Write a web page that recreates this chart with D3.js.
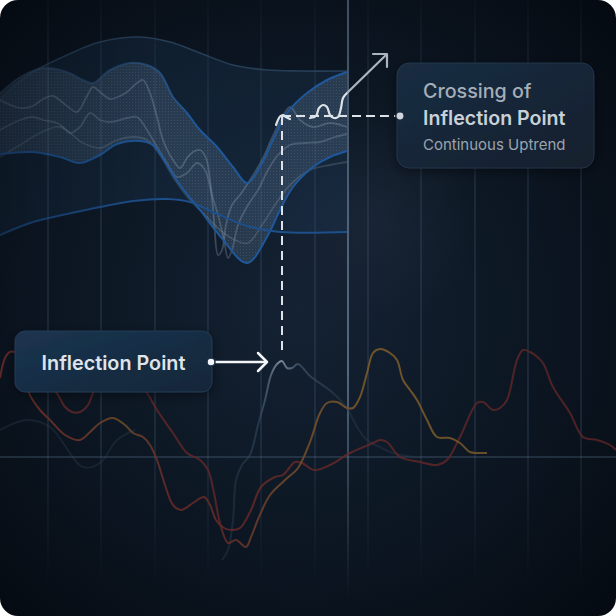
<!DOCTYPE html>
<html><head><meta charset="utf-8">
<script src="https://cdn.jsdelivr.net/npm/d3@7"></script>
<style>html,body{margin:0;padding:0;background:#ffffff;}svg{display:block;}</style>
</head><body>
<svg id="chart" width="616" height="616"></svg>
<script>
// ---------- data (time units on x, value units on y) ----------
const gridTicks = [4.8, 10.1, 15.5, 20.8, 26.1, 31.5, 36.8, 42.1, 47.5, 52.8, 58.1];
const highlightTick = 34.8;
const baselineValue = 15.9;

const envelopeTop = [[0,51.6],[1.5,53.1],[3.3,54.4],[6.7,56.1],[10,57.4],[14,57.9],[17,57.4],[20,56.3],[23.3,55.1],[26.7,54.6],[30,54.5],[34.7,54.5]];
const bandUpper = [[0,52.3],[2,53.9],[4.3,54.8],[6.7,54.4],[8.3,53.6],[9.3,53.3],[11,54.6],[13,55.3],[14.7,55.1],[16,54.3],[17.3,51.9],[18.7,50.3],[20,48.6],[21.7,46.9],[23.3,44.9],[24.7,43.3],[26,44.9],[27.3,47.6],[28.7,50.3],[30.7,52.3],[32.7,53.6],[34.7,54.4]];
const bandLower = [[0,46.2],[3.3,46.4],[6,45.9],[8,45.3],[10,46.1],[11.7,47.2],[14,47.5],[15.3,47.1],[16.7,45.1],[18,43.1],[20,40.6],[22,38],[24.7,35.3],[26.7,37.9],[28,40.6],[29.3,42.9],[31.3,44.9],[33,45.9],[34.7,46.5]];
const envelopeLower = [[0,38.1],[3.3,39.4],[6.7,40.2],[10,40.9],[13.3,41.5],[16.7,41.7],[19,41.4],[21.3,40.4],[24.7,39],[28,38.4],[34.7,38.4]];

const innerA = [[0,51.6],[2,50.8],[3.3,51],[4.3,51.7],[5.3,52],[6.7,51],[7.7,50.4],[8.7,52],[9.3,52.9],[10,52.4],[11,51.7],[12,52],[12.7,52.4],[13.7,53.3],[14.3,53.6],[15,52.3],[15.7,49.9],[16.3,47.6],[17.3,45.6],[18,44.8],[18.7,45.8],[19.3,46.4],[20,46.6],[20.6,45.8],[21,43.6],[21.4,39.6],[21.8,36.1],[22.2,36.6],[22.6,39.1],[23.2,41.1],[24,42.1],[25,43.6],[26.2,45.6],[27.2,47.8],[28,49.4],[29,50.9],[30,49.6],[31.3,48.9],[33,49.3],[34.7,48.9]];
const innerB = [[0,48.6],[2,49.6],[3.3,49.9],[4.3,49.6],[5.7,49.3],[6.3,48.9],[7,48.3],[8,48.9],[9,50.3],[10,49.6],[11,49.4],[12.7,49.8],[13.7,49.9],[14.7,48.6],[15.7,46.9],[16.7,45.3],[17.7,43.9],[18.7,44.3],[19.7,45.3],[20.5,44.6],[21.2,42.1],[21.8,40.1],[22.4,37.6],[22.8,35.8],[23.2,36.6],[23.8,39.1],[24.8,41.1],[25.8,42.6],[26.8,44.6],[27.8,46.1],[29,47.1],[30.5,47.3],[32,47.4],[33.5,47.9],[34.7,48.2]];
const innerC = [[0,45.9],[2,47.1],[4,48.3],[6,48.9],[8.3,47.3],[10,46.8],[11.7,47.6],[13.3,47.9],[14.7,47.6],[16,46.1],[17.5,43.6],[19,41.6],[20.5,40.1],[22,38.6],[23.5,37.6],[24.8,37.3],[26.2,39.1],[27.5,41.1],[29,43.1],[31,44.6],[33,45.1],[34.7,45.4]];

const highlightPeak = [[27.6,49.1],[27.8,49.6],[28,49.95],[28.3,50.1],[28.6,49.9],[29,49.7]];
const highlightBump = [[31.0,49.8],[31.6,50],[31.9,50.8],[32.3,51.1],[32.7,50.9],[33,50.1],[33.4,49.8],[33.8,49.9],[34.1,50.8],[34.3,51.8],[34.7,52.3]];
const trendArrow = [[34.7,52.3],[38.7,56.2]];
const inflectionPoint = [28.2, 50.0];
const inflectionLow = 26.4;
const crossingDot = [40.0, 50.0];

const seriesRed = [[0,23.8],[0.5,25.8],[1,26.4],[1.8,26.2],[2.5,24.4],[2.9,22.3],[4,20.6],[5,19.6],[6.5,18.1],[8,17.6],[9,18.4],[10,19.3],[11.3,19.8],[12.5,19.1],[13.3,18.3],[14.3,17.9],[15,17.1],[15.7,15.6],[16.5,13.1],[17.3,11.1],[18.1,10.6],[19.3,11.3],[20.4,11.9],[21,11.1],[21.6,9.6],[22.4,8.8],[23.2,8.6],[24,8.8],[25.1,10.6],[26.1,12.9],[27.5,13.9],[28.3,14.1],[29.5,15.4],[30.2,15.3],[31.4,14.6],[33,15.1],[35,16.3],[37.3,17.3],[38,17.6],[38.7,17.4],[40,15.9],[42,15.4],[43.7,15.1],[44.7,15.6],[46,17.9],[47.7,21.3],[48.3,21.4],[49.3,20.6],[50,20.8],[50.7,21.6],[51.7,25.6],[52.3,26.6],[53,26.4],[53.5,26.1],[54.3,25.3],[55.3,22.9],[57,20.3],[58.3,17.9],[59.7,17.6],[61,17.1],[61.6,16.6]];
const seriesAmber = [[1.5,24.4],[3.5,23.8],[5,23.1],[5.8,22.1],[6.5,20.9],[7.2,20.4],[8,20.4],[8.8,21.1],[9.3,22.3],[10,23.8],[11.5,24.4],[13,24.1],[14,23.1],[14.7,22.3],[15.7,20.6],[17.3,18.3],[18.7,16.3],[20,15.6],[20.8,14.6],[21.4,12.3],[22,9.3],[22.8,7.3],[23.6,7.6],[24.6,6.9],[25.1,7.9],[25.9,9.9],[27,12.1],[28.5,13.6],[29.8,14.8],[31,17.4],[32,20.3],[32.7,21.3],[33.7,21.4],[34.7,20.8],[35.3,20.8],[36,21.9],[36.7,24.3],[37.3,26.3],[38,26.7],[39,26.3],[39.7,25.6],[40.3,23.6],[41,22.6],[41.7,21.6],[42.7,19.6],[43.7,17.9],[45,17.8],[46,17.3],[47,16.4],[47.7,16.3],[48.7,16.3]];
const seriesSlate = [[22.2,5.6],[22.8,6.6],[23.3,9.6],[23.6,13.6],[24.2,15.1],[25,16.1],[25.8,19.1],[26.5,21.6],[27.1,24.1],[27.7,25.2],[28.2,25.5],[28.7,24.8],[29.2,24.8],[29.8,25.2],[31,24],[33.3,22.3],[34.7,20.8],[35.7,18.9],[36.7,17.6],[38,16.9],[39.3,16.3],[41.5,15.9]];
const seriesFaint = [[0,18.6],[2.7,19.6],[5,18.9],[8.3,14.9],[10,15.3],[11.7,17.6],[13.5,18.6]];

const labelLeft = {text: "Inflection Point", box: [1.5, 28.5, 21.2, 22.4], at: [11.35, 24.6], dot: [21.1, 25.4], tip: [26.7, 25.4]};
const labelRight = {lines: ["Crossing of", "Inflection Point", "Continuous Uptrend"], box: [39.7, 55.3, 59.4, 44.8], x: 42.3, baselines: [51.8, 49.1, 46.6]};

// ---------- scales ----------
const W = 616, H = 616;
const x = d3.scaleLinear().domain([0, 61.6]).range([0, W]);
const y = d3.scaleLinear().domain([0, 61.6]).range([H, 0]);

const svg = d3.select("#chart");
const defs = svg.append("defs");

const bg = defs.append("radialGradient").attr("id","bg").attr("gradientUnits","userSpaceOnUse")
  .attr("cx",300).attr("cy",310).attr("r",440);
bg.append("stop").attr("offset",0).attr("stop-color","#142233");
bg.append("stop").attr("offset",0.55).attr("stop-color","#0c1622");
bg.append("stop").attr("offset",1).attr("stop-color","#050a11");

const glow = defs.append("radialGradient").attr("id","glow").attr("gradientUnits","userSpaceOnUse")
  .attr("cx",x(highlightTick)+25).attr("cy",y(40)).attr("r",110);
glow.append("stop").attr("offset",0).attr("stop-color","#2a3246").attr("stop-opacity",0.35);
glow.append("stop").attr("offset",1).attr("stop-color","#2a3246").attr("stop-opacity",0);

defs.append("clipPath").attr("id","card").append("rect").attr("width",W).attr("height",H).attr("rx",18);

const gGrid = defs.append("linearGradient").attr("id","gridFade").attr("gradientUnits","userSpaceOnUse")
  .attr("x1",0).attr("y1",0).attr("x2",0).attr("y2",H);
[[0,0.05],[0.15,0.32],[0.7,0.36],[0.95,0.0]].forEach(([o,a])=>gGrid.append("stop").attr("offset",o).attr("stop-color","#5d7b99").attr("stop-opacity",a));
const gBright = defs.append("linearGradient").attr("id","brightFade").attr("gradientUnits","userSpaceOnUse")
  .attr("x1",0).attr("y1",0).attr("x2",0).attr("y2",H);
[[0,0.55],[0.6,0.75],[0.97,0.0]].forEach(([o,a])=>gBright.append("stop").attr("offset",o).attr("stop-color","#6a8098").attr("stop-opacity",a));

const dots = defs.append("pattern").attr("id","dots").attr("width",3).attr("height",3).attr("patternUnits","userSpaceOnUse");
dots.append("rect").attr("width",1).attr("height",1).attr("fill","#b8c8da").attr("opacity",0.13);

const leftFade = defs.append("linearGradient").attr("id","leftFade").attr("gradientUnits","userSpaceOnUse")
  .attr("x1",0).attr("x2",160).attr("y1",0).attr("y2",0);
leftFade.append("stop").attr("offset",0).attr("stop-color","#fff").attr("stop-opacity",0.5);
leftFade.append("stop").attr("offset",1).attr("stop-color","#fff").attr("stop-opacity",1);
defs.append("mask").attr("id","fadeMask").attr("maskUnits","userSpaceOnUse").attr("x",0).attr("y",0).attr("width",W).attr("height",H)
  .append("rect").attr("width",W).attr("height",H).attr("fill","url(#leftFade)");

const blueFade = defs.append("linearGradient").attr("id","blueUpper").attr("gradientUnits","userSpaceOnUse")
  .attr("x1",0).attr("x2",x(34.7)).attr("y1",0).attr("y2",0);
blueFade.append("stop").attr("offset",0).attr("stop-color","#3a5d80").attr("stop-opacity",0.3);
blueFade.append("stop").attr("offset",0.42).attr("stop-color","#2c5d95").attr("stop-opacity",0.55);
blueFade.append("stop").attr("offset",0.55).attr("stop-color","#1f5799").attr("stop-opacity",1);
blueFade.append("stop").attr("offset",1).attr("stop-color","#1f5799").attr("stop-opacity",1);

function hGrad(id, stops){
  const g = defs.append("linearGradient").attr("id",id).attr("gradientUnits","userSpaceOnUse")
    .attr("x1",0).attr("x2",W).attr("y1",0).attr("y2",0);
  stops.forEach(([o,c,a])=>g.append("stop").attr("offset",o).attr("stop-color",c).attr("stop-opacity",a));
}
hGrad("redGrad",[[0,"#6b2a28",0.85],[0.12,"#6b3328",0.85],[0.2,"#73502a",0.8],[0.27,"#6a2a28",0.85],[1,"#5c2426",0.8]]);
hGrad("amberGrad",[[0,"#5f2627",0.85],[0.35,"#5f2627",0.85],[0.45,"#72482a",0.85],[0.6,"#7a5a2a",0.9],[1,"#6e5028",0.85]]);
hGrad("slateGrad",[[0.35,"#1f3243",0.45],[0.42,"#33495e",0.6],[0.455,"#8596a8",0.9],[0.485,"#465b70",0.65],[0.56,"#273a4d",0.5],[0.7,"#213245",0.4]]);

const boxFill = defs.append("linearGradient").attr("id","boxFill").attr("x1",0).attr("y1",0).attr("x2",1).attr("y2",1);
boxFill.append("stop").attr("offset",0).attr("stop-color","#1b3450");
boxFill.append("stop").attr("offset",1).attr("stop-color","#132638");
const boxFill2 = defs.append("linearGradient").attr("id","boxFill2").attr("x1",0).attr("y1",0).attr("x2",1).attr("y2",1);
boxFill2.append("stop").attr("offset",0).attr("stop-color","#1a2d42");
boxFill2.append("stop").attr("offset",1).attr("stop-color","#121f2d");
const sh = defs.append("filter").attr("id","shadow").attr("x","-20%").attr("y","-30%").attr("width","140%").attr("height","160%");
sh.append("feDropShadow").attr("dx",0).attr("dy",3).attr("stdDeviation",6).attr("flood-color","#000").attr("flood-opacity",0.45);

const root = svg.append("g").attr("clip-path","url(#card)");
root.append("rect").attr("width",W).attr("height",H).attr("fill","url(#bg)");
root.append("rect").attr("width",W).attr("height",H).attr("fill","url(#glow)");

// grid
root.append("g").selectAll("line").data(gridTicks).join("line")
  .attr("x1",d=>x(d)).attr("x2",d=>x(d)).attr("y1",0).attr("y2",H)
  .attr("stroke","url(#gridFade)").attr("stroke-width",1);
root.append("line").attr("x1",0).attr("x2",W).attr("y1",y(baselineValue)).attr("y2",y(baselineValue))
  .attr("stroke","#5f7a94").attr("stroke-opacity",0.55).attr("stroke-width",1);

const lineC = d3.line().x(d=>x(d[0])).y(d=>y(d[1])).curve(d3.curveCatmullRom.alpha(0.5));
function areaBetween(top, bottom){
  const a = lineC(top);
  const b = lineC(bottom.slice().reverse());
  return a + "L" + b.slice(1) + "Z";
}

// upper band group
const band = root.append("g").attr("mask","url(#fadeMask)");
band.append("path").attr("d",areaBetween(envelopeTop, envelopeLower)).attr("fill","#1d3a58").attr("fill-opacity",0.3);
band.append("path").attr("d",areaBetween(bandUpper, bandLower)).attr("fill","#4a6480").attr("fill-opacity",0.4);
band.append("path").attr("d",areaBetween(bandUpper, bandLower)).attr("fill","url(#dots)");
band.append("path").attr("d",lineC(envelopeTop)).attr("fill","none").attr("stroke","#2f4b66").attr("stroke-width",1.6).attr("stroke-opacity",0.75);
[innerA, innerB, innerC].forEach((s,i)=>{
  band.append("path").attr("d",lineC(s)).attr("fill","none").attr("stroke","#9aabbf")
    .attr("stroke-opacity",[0.3,0.28,0.22][i]).attr("stroke-width",1.8);
});
band.append("path").attr("d",lineC(bandUpper)).attr("fill","none").attr("stroke","url(#blueUpper)").attr("stroke-width",2);
band.append("path").attr("d",lineC(bandLower)).attr("fill","none").attr("stroke","#1f5799").attr("stroke-width",2);
band.append("path").attr("d",lineC(envelopeLower)).attr("fill","none").attr("stroke","#1d4f8a").attr("stroke-width",2);

// highlight vertical line
root.append("line").attr("x1",x(highlightTick)).attr("x2",x(highlightTick)).attr("y1",0).attr("y2",H)
  .attr("stroke","url(#brightFade)").attr("stroke-width",2);

// lower series
root.append("path").attr("d",lineC(seriesFaint)).attr("fill","none").attr("stroke","#3a4e62").attr("stroke-opacity",0.25).attr("stroke-width",2);
root.append("path").attr("d",lineC(seriesSlate)).attr("fill","none").attr("stroke","url(#slateGrad)").attr("stroke-width",2);
root.append("path").attr("d",lineC(seriesRed)).attr("fill","none").attr("stroke","url(#redGrad)").attr("stroke-width",2);
root.append("path").attr("d",lineC(seriesAmber)).attr("fill","none").attr("stroke","url(#amberGrad)").attr("stroke-width",2);

// dashed guides
const ink = "#dde2e8";
root.append("line").attr("x1",x(inflectionPoint[0])).attr("x2",x(inflectionPoint[0]))
  .attr("y1",y(inflectionPoint[1])).attr("y2",y(inflectionLow))
  .attr("stroke",ink).attr("stroke-width",2).attr("stroke-dasharray","9,6");
root.append("line").attr("x1",x(inflectionPoint[0])).attr("x2",x(crossingDot[0]))
  .attr("y1",y(crossingDot[1])).attr("y2",y(crossingDot[1]))
  .attr("stroke",ink).attr("stroke-width",2).attr("stroke-dasharray","9,5");

// highlight curve pieces + arrow
[highlightPeak, highlightBump].forEach(seg=>{
  root.append("path").attr("d",lineC(seg)).attr("fill","none").attr("stroke",ink).attr("stroke-width",2.2)
    .attr("stroke-linejoin","round").attr("stroke-linecap","round");
});
const lineS = d3.line().x(d=>x(d[0])).y(d=>y(d[1]));
root.append("path").attr("d",lineS(trendArrow)).attr("fill","none").attr("stroke","#aab5c1").attr("stroke-width",2.2);
const tip = trendArrow[1];
root.append("path").attr("d",`M${x(tip[0])-14},${y(tip[1])}L${x(tip[0])},${y(tip[1])}L${x(tip[0])},${y(tip[1])+13}`)
  .attr("fill","none").attr("stroke","#aab5c1").attr("stroke-width",2.2).attr("stroke-linecap","round").attr("stroke-linejoin","round");

// left label
const L = labelLeft;
root.append("rect").attr("x",x(L.box[0])).attr("y",y(L.box[1])).attr("width",x(L.box[2])-x(L.box[0])).attr("height",y(L.box[3])-y(L.box[1]))
  .attr("rx",10).attr("fill","url(#boxFill)").attr("stroke","#2a4562").attr("stroke-opacity",0.7).attr("filter","url(#shadow)");
root.append("text").attr("x",x(L.at[0])).attr("y",y(L.at[1])).attr("text-anchor","middle")
  .attr("font-family","Inter, 'Noto Sans', sans-serif").attr("font-weight",600).attr("font-size",19.8)
  .attr("fill","#dfe4ea").text(L.text);
root.append("line").attr("x1",x(L.dot[0])).attr("x2",x(L.tip[0])-1).attr("y1",y(L.dot[1])).attr("y2",y(L.tip[1]))
  .attr("stroke","#f2f4f7").attr("stroke-width",2.5);
root.append("path").attr("d",`M${x(L.tip[0])-9},${y(L.tip[1])-9}L${x(L.tip[0])},${y(L.tip[1])}L${x(L.tip[0])-9},${y(L.tip[1])+9}`)
  .attr("fill","none").attr("stroke","#f2f4f7").attr("stroke-width",2.5).attr("stroke-linecap","round").attr("stroke-linejoin","round");
root.append("circle").attr("cx",x(L.dot[0])).attr("cy",y(L.dot[1])).attr("r",4).attr("fill","#f2f4f7").attr("stroke","#1a2e44").attr("stroke-width",1.5);

// right label
const R = labelRight;
root.append("rect").attr("x",x(R.box[0])).attr("y",y(R.box[1])).attr("width",x(R.box[2])-x(R.box[0])).attr("height",y(R.box[3])-y(R.box[1]))
  .attr("rx",12).attr("fill","url(#boxFill2)").attr("stroke","#2a3c52").attr("stroke-opacity",0.7).attr("filter","url(#shadow)");
const styles = [{w:500,s:19.7,c:"#a5aeb8"},{w:600,s:19.6,c:"#c9d0d7"},{w:400,s:15,c:"#9aa4ae"}];
R.lines.forEach((t,i)=>{
  root.append("text").attr("x",x(R.x)).attr("y",y(R.baselines[i]))
    .attr("font-family","Inter, 'Noto Sans', sans-serif").attr("font-weight",styles[i].w).attr("font-size",styles[i].s)
    .attr("fill",styles[i].c).text(t);
});
root.append("circle").attr("cx",x(crossingDot[0])).attr("cy",y(crossingDot[1])).attr("r",4.2).attr("fill","#cfd5dc").attr("stroke","#1a2a3c").attr("stroke-width",1.5);
</script>
</body></html>
